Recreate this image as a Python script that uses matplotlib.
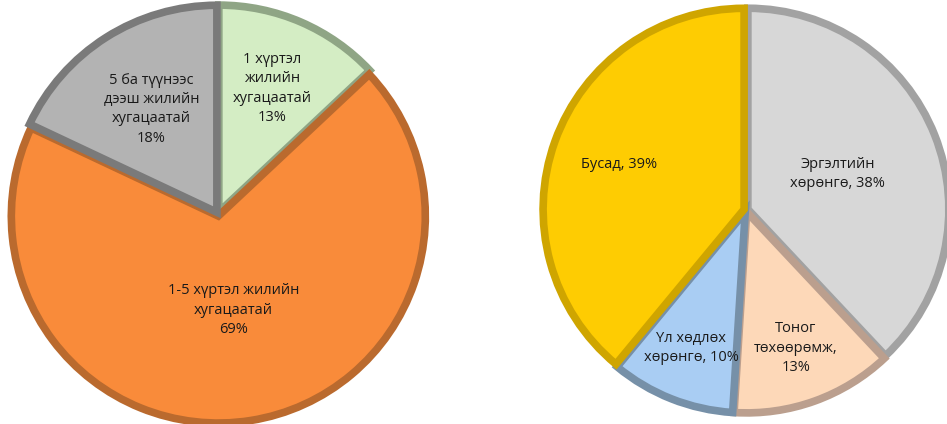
import numpy as np
import matplotlib
matplotlib.use("Agg")
import matplotlib.pyplot as plt

plt.rcParams['font.family'] = ['Open Sans', 'DejaVu Sans']

# left pie: loan term structure
left_labels = ["1 хүртэл\nжилийн\nхугацаатай\n13%",
               "1-5 хүртэл жилийн\nхугацаатай\n69%",
               "5 ба түүнээс\nдээш жилийн\nхугацаатай\n18%"]
left_values = [13, 69, 18]
left_colors = ["#D4EDC4", "#F98B3A", "#B3B3B3"]
left_edges = ["#8FA585", "#BA6A2E", "#7A7A7A"]
left_dist = [0.66, 0.47, 0.60]

# right pie: usage of loans
right_labels = ["Эргэлтийн\nхөрөнгө, 38%",
                "Тоног\nтөхөөрөмж,\n13%",
                "Үл хөдлөх\nхөрөнгө, 10%",
                "Бусад, 39%"]
right_values = [38, 13, 10, 39]
right_colors = ["#D7D7D7", "#FDD8B8", "#A9CDF3", "#FECC02"]
right_edges = ["#A2A2A2", "#BB9F8E", "#7690A8", "#CFA500"]
right_dist = [0.49, 0.73, 0.74, 0.67]

W, H = 947, 424
fig = plt.figure(figsize=(W / 100, H / 100), dpi=100)


def draw_pie(cx, cy, r, values, colors, edges, labels, dists):
    pad = 1.05
    ax = fig.add_axes([(cx - r * pad) / W, (H - cy - r * pad) / H,
                       2 * r * pad / W, 2 * r * pad / H])
    wedges, _ = ax.pie(values, colors=colors, startangle=90, counterclock=False,
                       explode=[0.01] * len(values),
                       wedgeprops=dict(linewidth=5.5))
    for w, ec in zip(wedges, edges):
        w.set_edgecolor(ec)
        w.set_clip_path(w)
    for w, lab, d in zip(wedges, labels, dists):
        mid = np.deg2rad((w.theta1 + w.theta2) / 2)
        ax.text(d * np.cos(mid), d * np.sin(mid), lab, ha='center', va='center',
                fontsize=10.5, color='#1A1A1A', linespacing=1.4)
    ax.set_xlim(-pad, pad)
    ax.set_ylim(-pad, pad)
    ax.set_aspect('equal')
    ax.axis('off')


draw_pie(218, 214, 207, left_values, left_colors, left_edges, left_labels, left_dist)
draw_pie(746, 210, 201, right_values, right_colors, right_edges, right_labels, right_dist)

fig.savefig("out.png", dpi=100)
